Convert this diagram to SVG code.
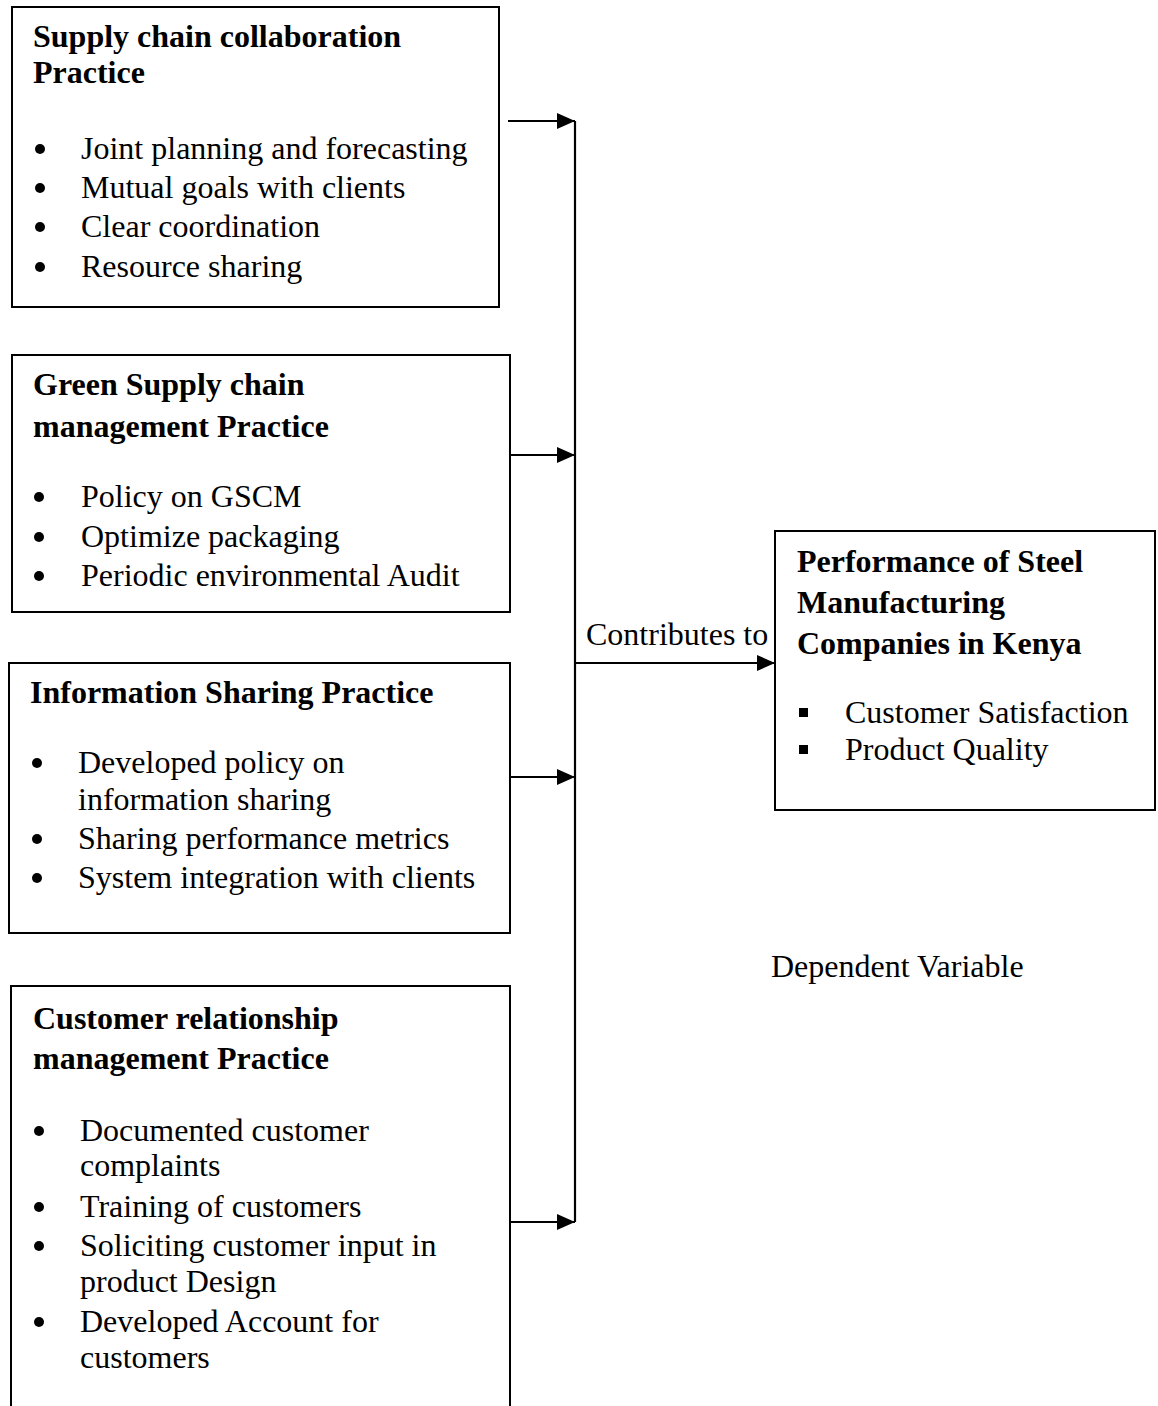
<svg xmlns="http://www.w3.org/2000/svg" width="1158" height="1406" viewBox="0 0 1158 1406">
<defs>
<marker id="arrow" markerUnits="userSpaceOnUse" markerWidth="18" markerHeight="18" refX="18" refY="9" orient="auto">
<path d="M0,1 L18,9 L0,17 z" fill="#000"/>
</marker>
<style>
.box{fill:#fff;stroke:#000;stroke-width:2}
.h{font-family:"Liberation Serif","Times New Roman",serif;font-size:32px;font-weight:bold;fill:#000}
.t{font-family:"Liberation Serif","Times New Roman",serif;font-size:32px;fill:#000}
.dot{fill:#000}
.conn{stroke:#000;stroke-width:2.2;fill:none}
</style>
</defs>
<rect width="1158" height="1406" fill="#fff"/>

<g id="node-collaboration">
<rect class="box" x="12" y="7" width="487" height="300"/>
<text class="h" x="33" y="47">Supply chain collaboration</text>
<text class="h" x="33" y="83">Practice</text>
<circle class="dot" cx="40" cy="149" r="5"/>
<text class="t" x="81" y="159">Joint planning and forecasting</text>
<circle class="dot" cx="40" cy="188" r="5"/>
<text class="t" x="81" y="198">Mutual goals with clients</text>
<circle class="dot" cx="40" cy="227" r="5"/>
<text class="t" x="81" y="237">Clear coordination</text>
<circle class="dot" cx="40" cy="267" r="5"/>
<text class="t" x="81" y="277">Resource sharing</text>
</g>

<g id="node-green">
<rect class="box" x="12" y="355" width="498" height="257"/>
<text class="h" x="33" y="395">Green Supply chain</text>
<text class="h" x="33" y="437">management Practice</text>
<circle class="dot" cx="39" cy="497" r="5"/>
<text class="t" x="81" y="507">Policy on GSCM</text>
<circle class="dot" cx="39" cy="537" r="5"/>
<text class="t" x="81" y="547">Optimize packaging</text>
<circle class="dot" cx="39" cy="576" r="5"/>
<text class="t" x="81" y="586">Periodic environmental Audit</text>
</g>

<g id="node-information">
<rect class="box" x="9" y="663" width="501" height="270"/>
<text class="h" x="30" y="703">Information Sharing Practice</text>
<circle class="dot" cx="37" cy="763" r="5"/>
<text class="t" x="78" y="773">Developed policy on</text>
<text class="t" x="78" y="810">information sharing</text>
<circle class="dot" cx="37" cy="839" r="5"/>
<text class="t" x="78" y="849">Sharing performance metrics</text>
<circle class="dot" cx="37" cy="878" r="5"/>
<text class="t" x="78" y="888">System integration with clients</text>
</g>

<g id="node-crm">
<rect class="box" x="11" y="986" width="499" height="440"/>
<text class="h" x="33" y="1029">Customer relationship</text>
<text class="h" x="33" y="1069">management Practice</text>
<circle class="dot" cx="39" cy="1131" r="5"/>
<text class="t" x="80" y="1141">Documented customer</text>
<text class="t" x="80" y="1176">complaints</text>
<circle class="dot" cx="39" cy="1207" r="5"/>
<text class="t" x="80" y="1217">Training of customers</text>
<circle class="dot" cx="39" cy="1246" r="5"/>
<text class="t" x="80" y="1256">Soliciting customer input in</text>
<text class="t" x="80" y="1292">product Design</text>
<circle class="dot" cx="39" cy="1322" r="5"/>
<text class="t" x="80" y="1332">Developed Account for</text>
<text class="t" x="80" y="1368">customers</text>
</g>

<g id="node-performance">
<rect class="box" x="775" y="531" width="380" height="279"/>
<text class="h" x="797" y="572">Performance of Steel</text>
<text class="h" x="797" y="613">Manufacturing</text>
<text class="h" x="797" y="654">Companies in Kenya</text>
<rect class="dot" x="799" y="708" width="9" height="9"/>
<text class="t" x="845" y="723">Customer Satisfaction</text>
<rect class="dot" x="799" y="745" width="9" height="9"/>
<text class="t" x="845" y="760">Product Quality</text>
</g>

<g id="label-dependent">
<text class="t" x="771" y="977">Dependent Variable</text>
</g>

<g id="connectors">
<line class="conn" x1="575" y1="121" x2="575" y2="1222"/>
<line class="conn" x1="508" y1="121" x2="575" y2="121" marker-end="url(#arrow)"/>
<line class="conn" x1="510" y1="455" x2="575" y2="455" marker-end="url(#arrow)"/>
<line class="conn" x1="510" y1="777" x2="575" y2="777" marker-end="url(#arrow)"/>
<line class="conn" x1="510" y1="1222" x2="575" y2="1222" marker-end="url(#arrow)"/>
<line class="conn" x1="575" y1="663" x2="775" y2="663" marker-end="url(#arrow)"/>
<text class="t" x="586" y="645">Contributes to</text>
</g>
</svg>
